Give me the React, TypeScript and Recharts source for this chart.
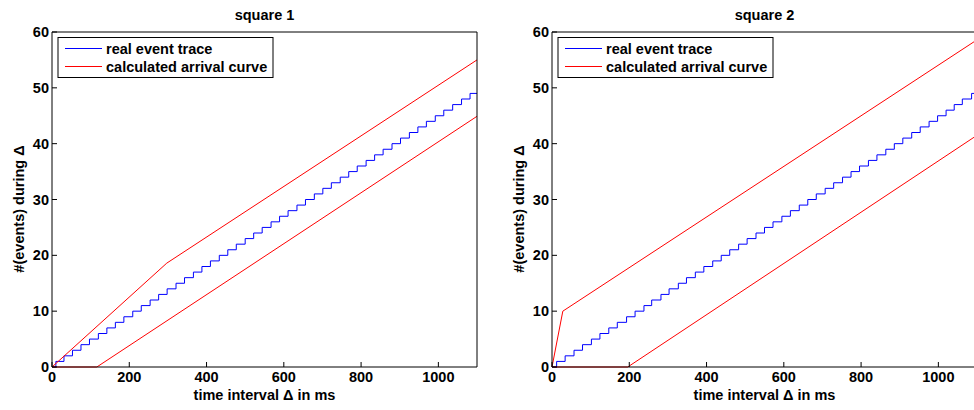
import { LineChart, Line, XAxis, YAxis } from 'recharts'

// time (ms) at which the observed event count steps up by one
const STEPS_1 = [
  10, 31, 53, 75, 97, 120, 142, 164, 186, 209, 231, 254, 276, 298, 321, 343,
  366, 388, 410, 433, 455, 477, 500, 522, 544, 567, 589, 611, 634, 656, 679, 701,
  723, 746, 768, 790, 813, 835, 857, 880, 902, 925, 947, 969, 992, 1014, 1037, 1060, 1082,
]
const STEPS_2 = [
  12, 34, 57, 79, 102, 124, 147, 169, 193, 215, 238, 258, 282, 303, 327, 348,
  371, 393, 416, 438, 460, 483, 505, 528, 550, 572, 595, 617, 640, 662, 684, 707,
  729, 752, 774, 796, 819, 841, 864, 886, 908, 931, 953, 976, 998, 1020, 1041, 1062, 1086,
]

// arrival curve break points: [time ms, events]
const UPPER_1 = [[0, 0], [297, 18.6], [1100, 55]]
const LOWER_1 = [[0, 0], [116, 0], [1100, 44.9]]
const UPPER_2 = [[0, 0], [28, 10], [1100, 58.6]]
const LOWER_2 = [[0, 0], [196, 0], [1100, 41.5]]

const X_TICKS = [0, 200, 400, 600, 800, 1000]
const Y_TICKS = [0, 10, 20, 30, 40, 50, 60]
const T_MAX = 1100

const FONT = '"Liberation Sans", Arial, Helvetica, sans-serif'
const FS = 14.5

const toPoints = (pairs: number[][]) => pairs.map(([t, n]) => ({ t, n }))
const staircase = (steps: number[]) => [
  { t: 0, n: 0 },
  ...steps.map((t, i) => ({ t, n: i + 1 })),
  { t: T_MAX, n: steps.length },
]

const W = 490
const H = 410
// plot box: x 52..477, y 32..367 (space taken by the four axes)
const AX = { top: 32, right: 13, bottom: 43, left: 52 }
const tickStyle = { fill: '#000', fontSize: FS, fontWeight: 'bold' as const, fontFamily: FONT }

function Panel({ title, steps, upper, lower, left }: {
  title: string
  steps: number[]
  upper: number[][]
  lower: number[][]
  left: number
}) {
  const plotCx = AX.left + (W - AX.left - AX.right) / 2
  return (
    <div style={{ position: 'absolute', left, top: 0, width: W, height: H }}>
      <LineChart width={W} height={H} margin={{ top: 0, right: 0, bottom: 0, left: 0 }} style={{ fontFamily: FONT }}>
        <XAxis
          xAxisId={0}
          type="number"
          dataKey="t"
          domain={[0, T_MAX]}
          ticks={X_TICKS}
          height={AX.bottom}
          tickSize={-5}
          tickMargin={10}
          stroke="#000"
          tick={tickStyle}
          interval={0}
        />
        <XAxis
          xAxisId="top"
          orientation="top"
          type="number"
          dataKey="t"
          domain={[0, T_MAX]}
          ticks={X_TICKS}
          height={AX.top}
          tickSize={-5}
          stroke="#000"
          tick={false}
          interval={0}
        />
        <YAxis
          yAxisId={0}
          type="number"
          domain={[0, 60]}
          ticks={Y_TICKS}
          width={AX.left}
          tickSize={-5}
          tickMargin={8}
          stroke="#000"
          tick={tickStyle}
          interval={0}
        />
        <YAxis
          yAxisId="right"
          orientation="right"
          type="number"
          domain={[0, 60]}
          ticks={Y_TICKS}
          width={AX.right}
          tickSize={-5}
          stroke="#000"
          tick={false}
          interval={0}
        />
        <Line data={staircase(steps)} dataKey="n" type="stepAfter" stroke="#0000ff" strokeWidth={1} dot={false} isAnimationActive={false} />
        <Line data={toPoints(upper)} dataKey="n" type="linear" stroke="#ff0000" strokeWidth={1} dot={false} isAnimationActive={false} />
        <Line data={toPoints(lower)} dataKey="n" type="linear" stroke="#ff0000" strokeWidth={1} dot={false} isAnimationActive={false} />
      </LineChart>
      <svg
        width={W}
        height={H}
        style={{ position: 'absolute', left: 0, top: 0, pointerEvents: 'none', fontFamily: FONT, fontWeight: 'bold', fontSize: FS }}
      >
        <text x={plotCx} y={20} textAnchor="middle">{title}</text>
        <text x={plotCx} y={400} textAnchor="middle">time interval Δ in ms</text>
        <text x={24} y={209} textAnchor="middle" transform="rotate(-90 24 209)">#(events) during Δ</text>
        <rect x={58} y={37.5} width={215} height={40} fill="#fff" stroke="#000" strokeWidth={1} />
        <line x1={65} x2={102} y1={48.5} y2={48.5} stroke="#0000ff" />
        <line x1={65} x2={102} y1={66.5} y2={66.5} stroke="#ff0000" />
        <text x={106} y={54}>real event trace</text>
        <text x={106} y={72}>calculated arrival curve</text>
      </svg>
    </div>
  )
}

export default function App() {
  return (
    <div style={{ position: 'absolute', left: 0, top: 0, width: 974, height: 410, overflow: 'hidden', background: '#fff' }}>
      <Panel title="square 1" steps={STEPS_1} upper={UPPER_1} lower={LOWER_1} left={0} />
      <Panel title="square 2" steps={STEPS_2} upper={UPPER_2} lower={LOWER_2} left={500} />
    </div>
  )
}
